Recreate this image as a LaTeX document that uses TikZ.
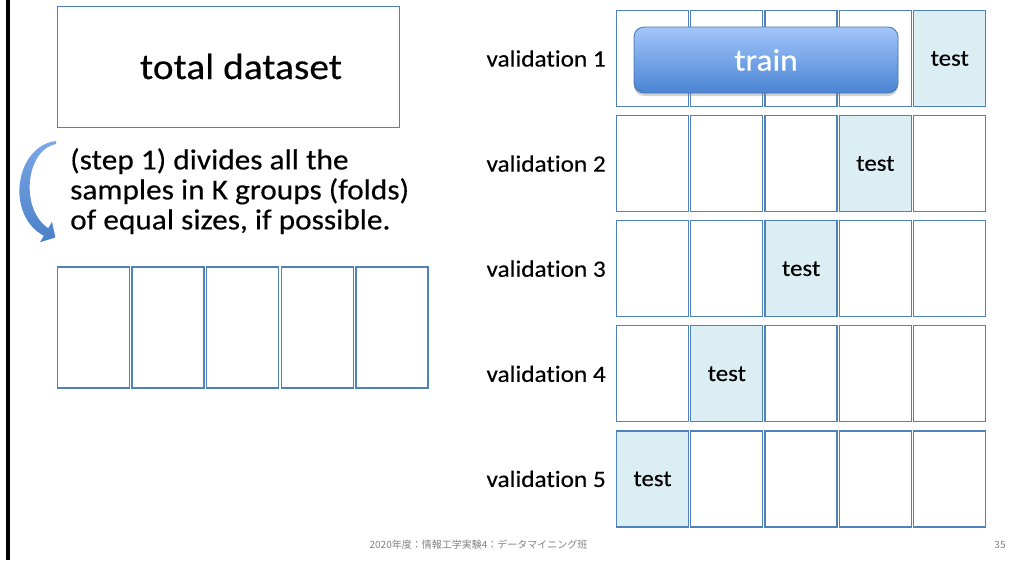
\documentclass[tikz,border=0pt]{standalone}
\usepackage{fontspec}
\setmainfont{Carlito}[FakeStretch=1.08, FakeBold=0.3, Ligatures=NoCommon]
\newfontfamily\jpfont{Noto Sans CJK JP}
\usetikzlibrary{shadows,positioning}

\definecolor{foldblue}{HTML}{4F81BD}
\definecolor{testfill}{HTML}{DBEEF4}
\definecolor{trainlight}{HTML}{A2C6FA}
\definecolor{traindark}{HTML}{4A84D4}
\definecolor{arrowlight}{HTML}{7BA7E6}
\definecolor{arrowdark}{HTML}{4A80C8}

\tikzset{
    fold/.style={draw=foldblue, line width=1.3pt, fill=white, inner sep=0pt,
        minimum width=72pt, minimum height=96pt,
        font=\fontsize{23}{26}\selectfont},
    testfold/.style={fold, fill=testfill},
    vlabel/.style={anchor=east, inner sep=0pt, font=\fontsize{23.4}{26}\selectfont},
    trainbox/.style={rounded corners=10pt, draw=foldblue!90!black, line width=0.8pt,
        top color=trainlight, bottom color=traindark,
        minimum width=264pt, minimum height=66pt, text=white,
        drop shadow={opacity=0.35, shadow xshift=0pt, shadow yshift=-3pt},
        font=\fontsize{31}{34}\selectfont},
    footer/.style={text=gray, inner sep=0pt, font=\jpfont\fontsize{10}{12}\selectfont},
}

\begin{document}
\begin{tikzpicture}[x=1pt,y=-1pt]
    \useasboundingbox (0,0) rectangle (1022,560);
    \fill[black] (6,0) rectangle (9.5,560);

    % the whole data set and its split into five folds
    \node[fold, minimum width=342pt, minimum height=121pt] (total) at (228.5,67) {};
    \node[inner sep=0pt, font=\fontsize{36.5}{40}\selectfont] (total-label) at (241,66.5) {total dataset};
    \node[anchor=north west, inner sep=0pt, align=left, font=\fontsize{29}{30}\selectfont]
        (step) at (70,148) {(step 1) divides all the\\samples in K groups (folds)\\of equal sizes, if possible.};
    \shade[top color=arrowlight, bottom color=arrowdark]
        (56,141) .. controls (15,146) and (5,215) .. (43.8,235.8)
        -- (40,242.2) -- (55.4,237.5) -- (52,221.8) -- (48.3,228.2)
        .. controls (20,210) and (25,150) .. (56,144) -- cycle;
    \node[fold, minimum height=121pt] (part-1) at (93.5,327.5) {};
    \foreach \i in {2,...,5} {
        \pgfmathtruncatemacro\prev{\i-1}
        \node[fold, minimum height=121pt, right=1.3pt of part-\prev] (part-\i) {};
    }

    % one row per validation run, test fold moving to the left
    \foreach \r in {1,...,5} {
        \pgfmathsetmacro\rowy{58.5+105.1*(\r-1)}
        \pgfmathtruncatemacro\testcol{6-\r}
        \node[vlabel] (val-\r) at (606,\rowy) {validation \r};
        \foreach \c in {1,...,5} {
            \pgfmathsetmacro\colx{652.5+74.3*(\c-1)}
            \ifnum\c=\testcol
                \node[testfold] (cell-\r-\c) at (\colx,\rowy) {test};
            \else
                \node[fold] (cell-\r-\c) at (\colx,\rowy) {};
            \fi
        }
    }
    \node[trainbox] (train) at (766,60) {train};

    \node[footer] (title) at (478.5,545) {2020年度：情報工学実験4：データマイニング班};
    \node[footer] (page) at (1000,545) {35};
\end{tikzpicture}
\end{document}
